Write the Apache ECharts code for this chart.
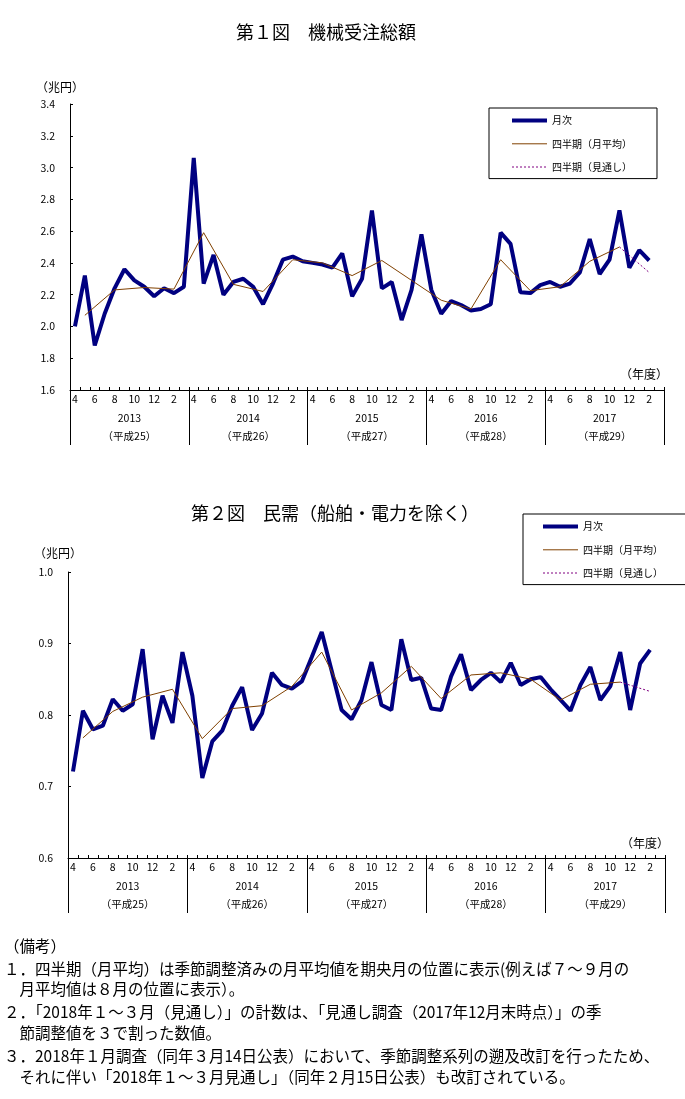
<!DOCTYPE html>
<html>
<head>
<meta charset="utf-8">
<script src="https://cdn.jsdelivr.net/npm/echarts@6/dist/echarts.min.js"></script>
<style>
html,body{margin:0;padding:0;background:#fff;}
#c{width:685px;height:1099px;}
</style>
</head>
<body>
<div id="c"></div>
<script>
// ---- data ----
var fiscalYears = ['2013', '2014', '2015', '2016', '2017'];
var heiseiLabels = ['（平成25）', '（平成26）', '（平成27）', '（平成28）', '（平成29）'];
var monthLabels = ['4', '5', '6', '7', '8', '9', '10', '11', '12', '1', '2', '3'];

// 第1図 機械受注総額 (兆円), monthly Apr 2013 - Feb 2018
var monthly1 = [2.00, 2.32, 1.88, 2.08, 2.24, 2.36, 2.29, 2.25, 2.19, 2.24, 2.21, 2.25,
  3.06, 2.27, 2.45, 2.20, 2.28, 2.30, 2.25, 2.14, 2.27, 2.42, 2.44, 2.41,
  2.40, 2.39, 2.37, 2.46, 2.19, 2.30, 2.73, 2.24, 2.28, 2.04, 2.23, 2.58,
  2.23, 2.08, 2.16, 2.135, 2.10, 2.11, 2.14, 2.59, 2.52, 2.215, 2.21, 2.26,
  2.28, 2.25, 2.27, 2.34, 2.55, 2.33, 2.42, 2.73, 2.37, 2.48, 2.415];
// quarterly (monthly average), plotted at the middle month of each quarter
var quarterly1 = [2.07, 2.23, 2.245, 2.235, 2.59, 2.265, 2.22, 2.42, 2.40, 2.32,
  2.415, 2.29, 2.165, 2.11, 2.42, 2.225, 2.25, 2.41, 2.50];
var outlook1 = 2.34;

// 第2図 民需（船舶・電力を除く）(兆円)
var monthly2 = [0.721, 0.806, 0.780, 0.785, 0.822, 0.806, 0.815, 0.892, 0.766, 0.827, 0.789, 0.888,
  0.827, 0.712, 0.763, 0.778, 0.813, 0.839, 0.779, 0.802, 0.859, 0.842, 0.837, 0.847,
  0.881, 0.916, 0.862, 0.807, 0.794, 0.821, 0.874, 0.814, 0.807, 0.906, 0.849, 0.852,
  0.809, 0.807, 0.854, 0.885, 0.835, 0.849, 0.859, 0.846, 0.873, 0.842, 0.850, 0.853,
  0.836, 0.821, 0.806, 0.842, 0.867, 0.821, 0.840, 0.888, 0.807, 0.872, 0.891];
var quarterly2 = [0.768, 0.805, 0.825, 0.836, 0.767, 0.809, 0.813, 0.840, 0.888, 0.807,
  0.831, 0.868, 0.823, 0.856, 0.859, 0.850, 0.821, 0.843, 0.846];
var outlook2 = 0.833;

var seriesNames = ['月次', '四半期（月平均）', '四半期（見通し）'];

// ---- build ----
var categories = [];
fiscalYears.forEach(function (fy) {
  monthLabels.forEach(function (m) { categories.push(fy + '-' + m); });
});
var N = categories.length;

function quarterData(q) {
  var arr = new Array(N).fill(null);
  q.forEach(function (v, k) { arr[1 + 3 * k] = v; });
  return arr;
}
function outlookData(q, o) {
  var arr = new Array(N).fill(null);
  var lastIdx = 1 + 3 * (q.length - 1);
  arr[lastIdx] = q[q.length - 1];
  arr[lastIdx + 3] = o;
  return arr;
}

var FONT = "'Noto Sans CJK JP', sans-serif";
var black = '#000';

function monthAxis(gi) {
  return {
    type: 'category', gridIndex: gi, data: categories, position: 'bottom',
    boundaryGap: true,
    axisLine: { show: true, lineStyle: { color: black, width: 1 } },
    axisTick: { show: true, inside: true, length: 3, interval: 0, lineStyle: { color: black } },
    axisLabel: {
      interval: 1, margin: 4, color: black, fontSize: 10.5, fontFamily: FONT,
      formatter: function (v) { return v.split('-')[1]; }
    },
    splitLine: { show: false }
  };
}
function yearAxis(gi) {
  return {
    type: 'category', gridIndex: gi, data: fiscalYears, position: 'bottom',
    boundaryGap: true,
    axisLine: { show: false },
    axisTick: { show: true, inside: false, length: 55, interval: 0, lineStyle: { color: black } },
    axisLabel: {
      interval: 0, margin: 19, color: black, fontSize: 10.5, lineHeight: 18, fontFamily: FONT,
      formatter: function (v, i) { return v + '\n' + heiseiLabels[i]; }
    },
    splitLine: { show: false }
  };
}
function valueAxis(gi, mn, mx, iv) {
  return {
    type: 'value', gridIndex: gi, min: mn, max: mx, interval: iv,
    axisLine: { show: true, lineStyle: { color: black } },
    axisTick: { show: true, inside: true, length: 3, lineStyle: { color: black } },
    axisLabel: {
      margin: 15, color: black, fontSize: 10.5, fontFamily: FONT,
      formatter: function (v) { return v.toFixed(1); }
    },
    splitLine: { show: false }
  };
}
function seriesFor(gi, xi, m, q, o) {
  return [
    { name: seriesNames[0], type: 'line', xAxisIndex: xi, yAxisIndex: gi, data: m,
      symbol: 'none', lineStyle: { color: '#000080', width: 4 }, itemStyle: { color: '#000080' }, z: 2 },
    { name: seriesNames[1], type: 'line', xAxisIndex: xi, yAxisIndex: gi, data: quarterData(q),
      connectNulls: true, symbol: 'none', lineStyle: { color: '#804000', width: 1 }, itemStyle: { color: '#804000' }, z: 3 },
    { name: seriesNames[2], type: 'line', xAxisIndex: xi, yAxisIndex: gi, data: outlookData(q, o),
      connectNulls: true, symbol: 'none', lineStyle: { color: '#800080', width: 1, type: [2, 2] }, itemStyle: { color: '#800080' }, z: 4 }
  ];
}
function legendAt(left, top, padding) {
  return {
    data: seriesNames, orient: 'vertical', left: left, top: top,
    itemWidth: 35, itemHeight: 14, itemGap: 12, padding: padding,
    borderColor: black, borderWidth: 1, backgroundColor: '#fff',
    selectedMode: false,
    itemStyle: { opacity: 0, color: 'rgba(0,0,0,0)', borderWidth: 0 },
    lineStyle: { width: 'inherit', type: 'inherit', color: 'inherit' },
    textStyle: { color: black, fontSize: 10, fontFamily: FONT }
  };
}
function txt(x, y, s, size, align) {
  return { type: 'text', x: x, y: y, style: { text: s, fill: black, font: size + 'px ' + FONT,
    textAlign: align || 'left', textVerticalAlign: 'middle' } };
}

var notes = [
  '（備考）',
  '１．四半期（月平均）は季節調整済みの月平均値を期央月の位置に表示(例えば７～９月の',
  '　月平均値は８月の位置に表示）。',
  '２．「2018年１～３月（見通し）」の計数は、「見通し調査（2017年12月末時点）」の季',
  '　節調整値を３で割った数値。',
  '３．2018年１月調査（同年３月14日公表）において、季節調整系列の遡及改訂を行ったため、',
  '　それに伴い「2018年１～３月見通し」（同年２月15日公表）も改訂されている。'
];
var noteY = [946, 969, 989, 1012, 1033, 1056, 1077];

var graphics = [
  txt(326, 32, '第１図　機械受注総額', 18, 'center'),
  txt(335, 513, '第２図　民需（船舶・電力を除く）', 18, 'center'),
  txt(36, 87, '（兆円）', 12),
  txt(34, 553, '（兆円）', 12),
  txt(620, 374, '（年度）', 12),
  txt(621, 843, '（年度）', 12)
];
notes.forEach(function (s, i) { graphics.push(txt(4, noteY[i], s, 15.5)); });

var option = {
  backgroundColor: '#fff',
  animation: false,
  textStyle: { fontFamily: FONT },
  grid: [
    { left: 70, top: 104, width: 594, height: 286 },
    { left: 68, top: 572, width: 597, height: 286 }
  ],
  xAxis: [monthAxis(0), yearAxis(0), monthAxis(1), yearAxis(1)],
  yAxis: [valueAxis(0, 1.6, 3.4, 0.2), valueAxis(1, 0.6, 1.0, 0.1)],
  legend: [legendAt(489, 108, [7, 25, 6, 21]), legendAt(523, 514, [7, 23, 6, 18])],
  series: seriesFor(0, 0, monthly1, quarterly1, outlook1)
    .concat(seriesFor(1, 2, monthly2, quarterly2, outlook2)),
  graphic: graphics
};

var chart = echarts.init(document.getElementById('c'), null, { renderer: 'canvas' });
chart.setOption(option);
</script>
</body>
</html>
